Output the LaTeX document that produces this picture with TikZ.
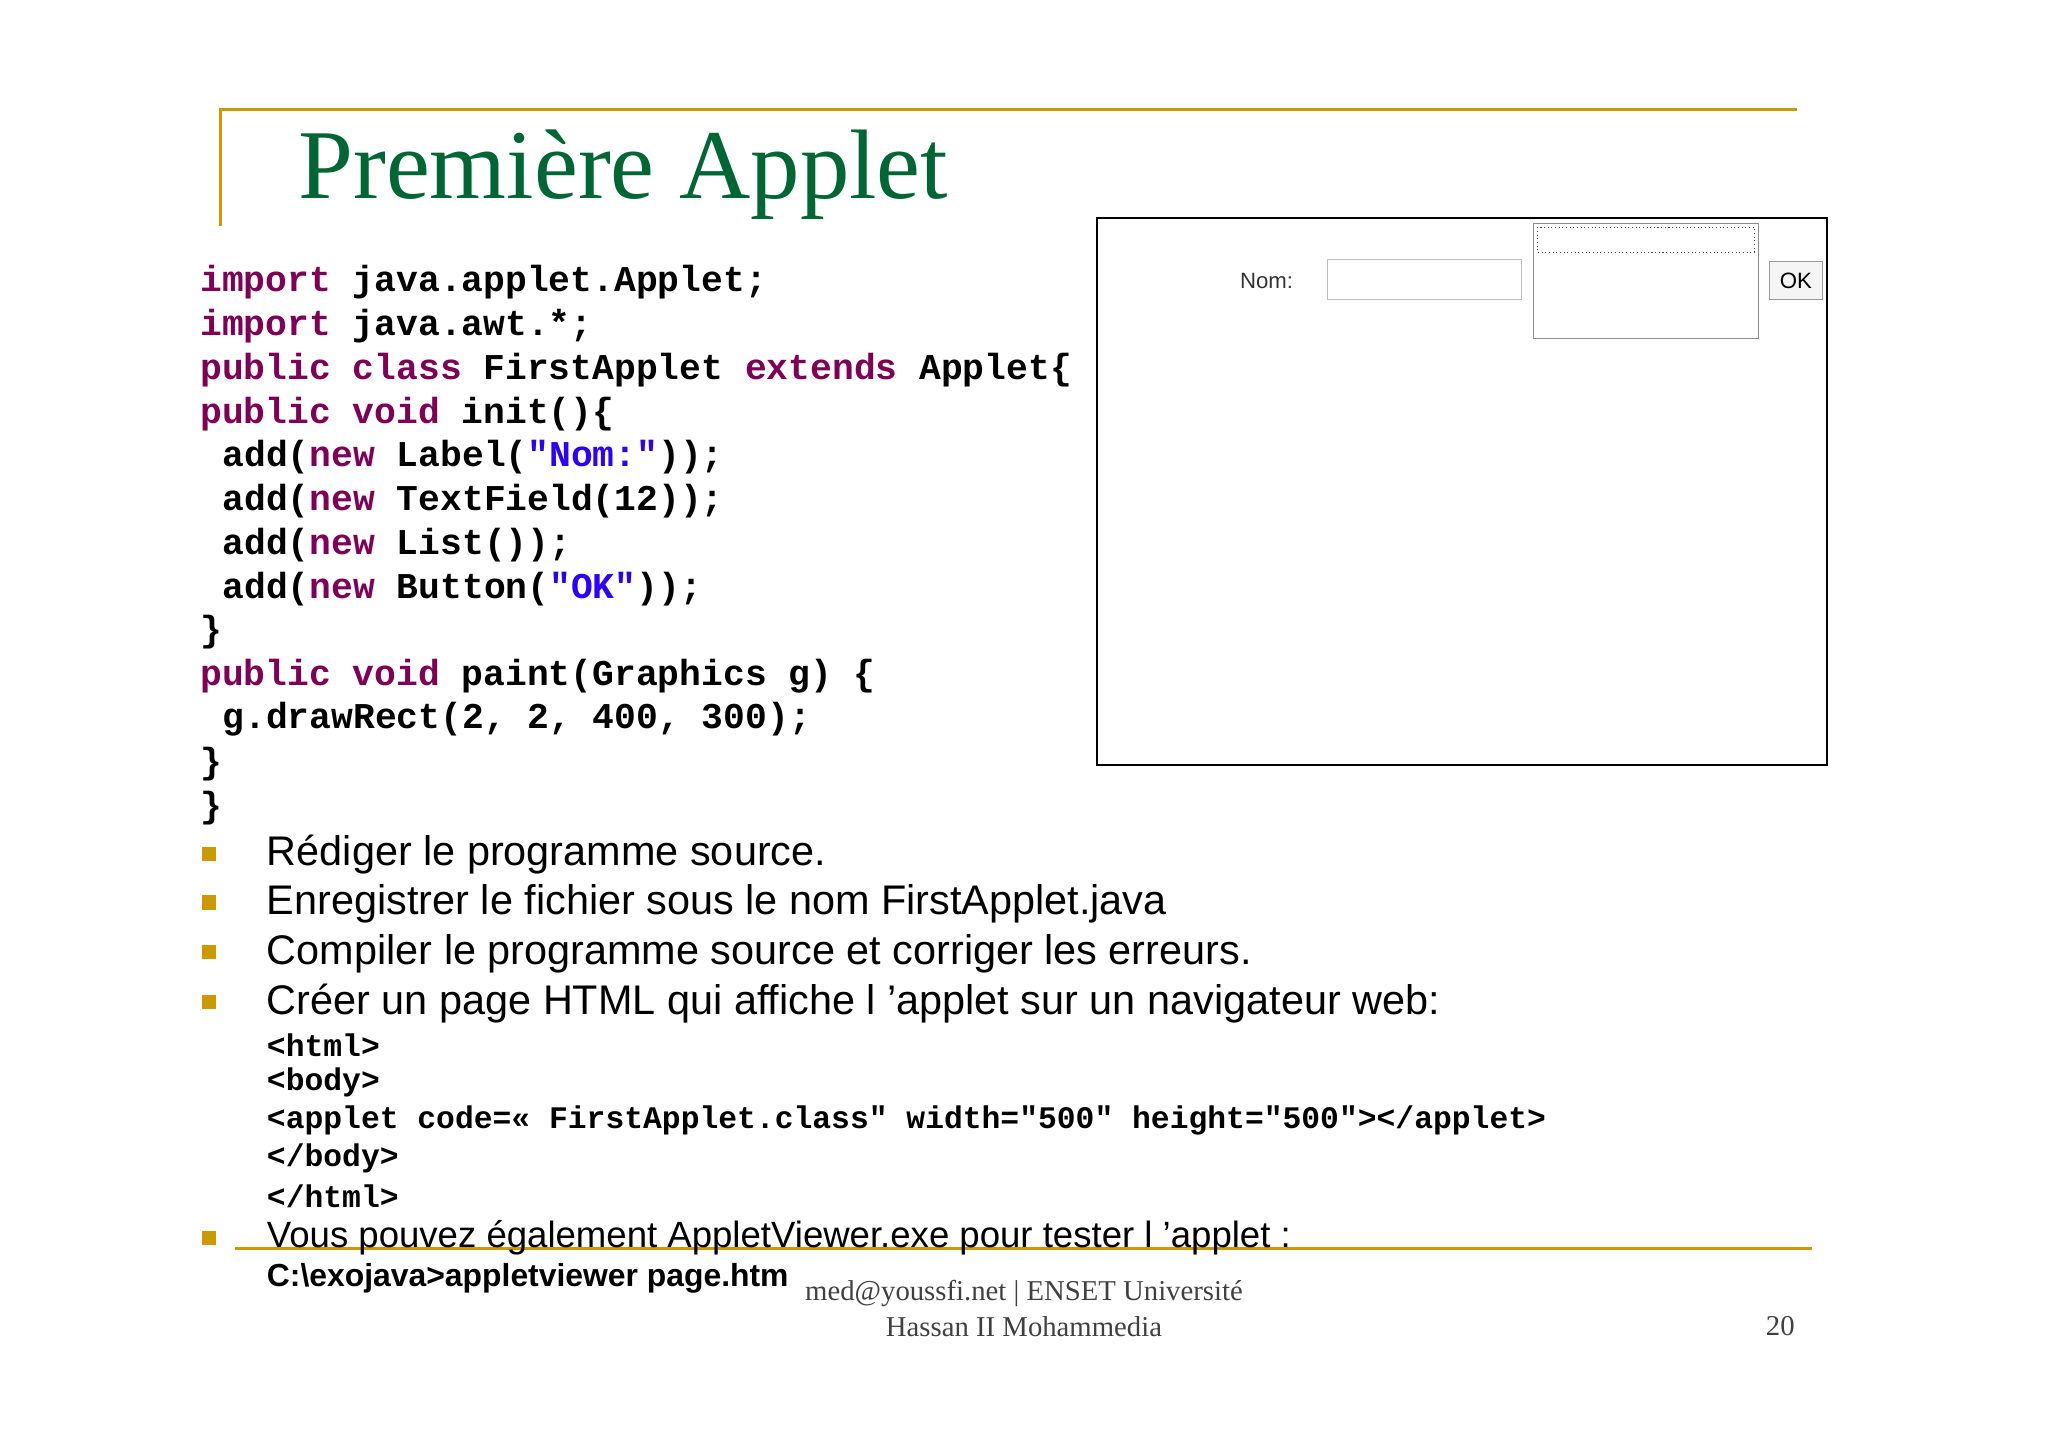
\documentclass[tikz,border=0pt]{standalone}
\usepackage{fontspec}
\setmainfont{Liberation Serif}
\newfontfamily\codef{Liberation Mono}
\newfontfamily\sansf{Liberation Sans}
\definecolor{kw}{RGB}{127,0,85}
\definecolor{str}{RGB}{42,0,255}
\definecolor{gold}{RGB}{204,153,0}
\definecolor{ttl}{RGB}{0,102,51}
\newcommand{\kk}[1]{\textcolor{kw}{#1}}
\newcommand{\sq}[1]{\textcolor{str}{#1}}
\begin{document}
\begin{tikzpicture}[x=0.5pt,y=-0.5pt,
 code/.style={anchor=west,inner sep=0,font=\codef\bfseries\fontsize{13.9}{16}\selectfont},
 html/.style={anchor=west,inner sep=0,font=\codef\bfseries\fontsize{12.0}{14}\selectfont},
 btxt/.style={anchor=west,inner sep=0,font=\sansf\fontsize{15.85}{18}\selectfont},
 bul/.style={fill=gold,minimum size=5.5pt,inner sep=0},
 foot/.style={font=\fontsize{11}{13}\selectfont,text=black!75}]
\useasboundingbox (0,0) rectangle (1568,1107);
\draw[gold,line width=1.2pt] (168,84) -- (1376,84);
\draw[gold,line width=1.2pt] (169,84) -- (169,173);
\draw[gold,line width=1.2pt] (180,956) -- (1387,956);
\node[anchor=west,inner sep=0,text=ttl,font=\fontsize{37.8}{40}\selectfont] (title) at (228,134) {Première Applet};
% code
\node[code] (c1) at (153,216) {\kk{import} java.applet.Applet;};
\node[code] (c2) at (153,250) {\kk{import} java.awt.*;};
\node[code] (c3) at (153,283) {\kk{public class} FirstApplet \kk{extends} Applet\{};
\node[code] (c4) at (153,317) {\kk{public void} init()\{};
\node[code] (c5) at (170,350) {add(\kk{new} Label(\sq{"Nom:"}));};
\node[code] (c6) at (170,384) {add(\kk{new} TextField(12));};
\node[code] (c7) at (170,417) {add(\kk{new} List());};
\node[code] (c8) at (170,451) {add(\kk{new} Button(\sq{"OK"}));};
\node[code] (c9) at (153,484) {\}};
\node[code] (c10) at (153,518) {\kk{public void} paint(Graphics g) \{};
\node[code] (c11) at (170,551) {g.drawRect(2, 2, 400, 300);};
\node[code] (c12) at (153,585) {\}};
\node[code] (c13) at (153,619) {\}};
% applet
\draw[line width=0.8pt] (840,167) rectangle (1399,586);
\node[anchor=west,inner sep=0,font=\sansf\fontsize{8.5}{10}\selectfont,text=black!80] (nom) at (949,215) {Nom:};
\draw[black!25,fill=white] (1016,199) rectangle (1165,229);
\draw[black!45] (1174,171) rectangle (1346,259);
\draw[black!70,densely dotted] (1177,174) rectangle (1343,193);
\draw[black!40,fill=black!4] (1355,200) rectangle (1395,229);
\node[font=\sansf\fontsize{8.5}{10}\selectfont] (ok) at (1375,215) {OK};
% bullets
\foreach \y/\n in {654/1,691/2,729/3,767/4,948/5}{\node[bul] (b\n) at (160,\y) {};}
\node[btxt] (t1) at (204,654) {Rédiger le programme source.};
\node[btxt] (t2) at (204,692) {Enregistrer le fichier sous le nom FirstApplet.java};
\node[btxt] (t3) at (204,730) {Compiler le programme source et corriger les erreurs.};
\node[btxt] (t4) at (204,768) {Créer un page HTML qui affiche l ’applet sur un navigateur web:};
\node[html] (h1) at (204,800) {<html>};
\node[html] (h2) at (204,829) {<body>};
\node[html] (h3) at (204,858) {<applet code=« FirstApplet.class" width="500" height="500"></applet>};
\node[html] (h4) at (204,887) {</body>};
\node[html] (h5) at (204,916) {</html>};
\node[btxt,font=\sansf\fontsize{14}{16}\selectfont] (t5) at (204,948) {Vous pouvez également AppletViewer.exe pour tester l ’applet :};
\node[anchor=west,inner sep=0,font=\sansf\bfseries\fontsize{12.2}{14}\selectfont] (cmd) at (204,979) {C:\textbackslash exojava>appletviewer page.htm};
\node[foot] (f1) at (784,990) {med@youssfi.net | ENSET Université};
\node[foot] (f2) at (784,1016) {Hassan II Mohammedia};
\node[foot] (pg) at (1363,1015) {20};
\end{tikzpicture}
\end{document}
